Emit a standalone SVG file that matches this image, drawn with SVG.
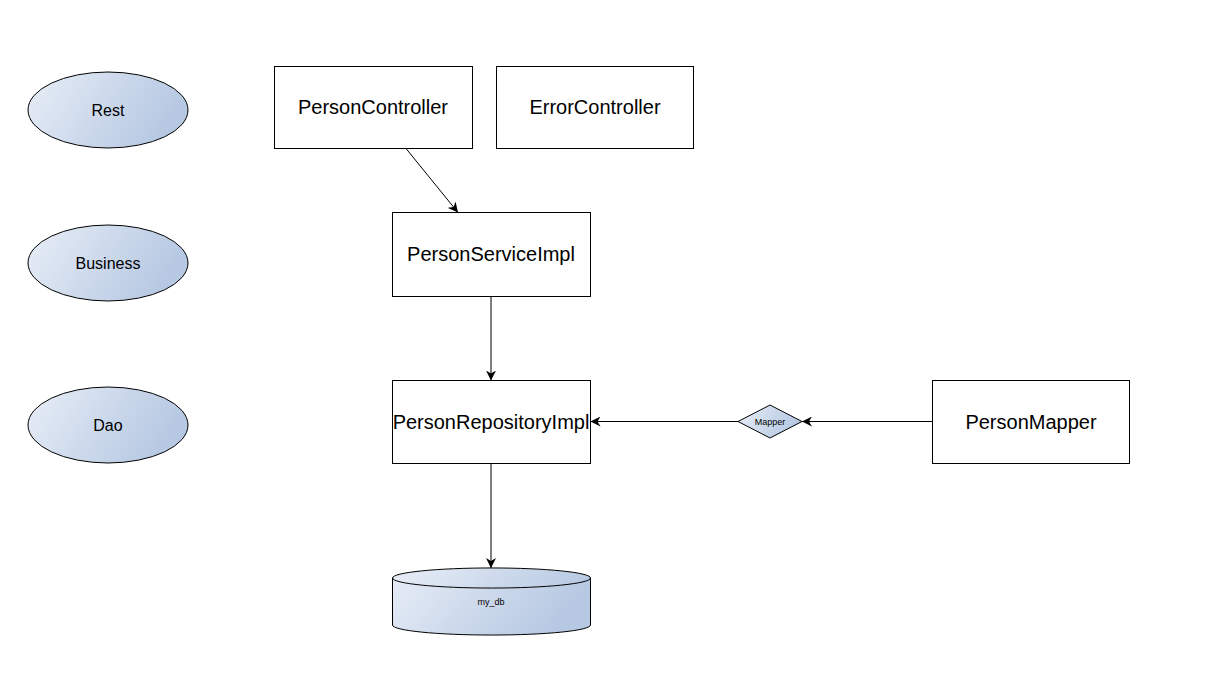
<svg xmlns="http://www.w3.org/2000/svg" width="1211" height="700" viewBox="0 0 1211 700">
<style>
.box{fill:#ffffff;stroke:#000000;stroke-width:1}
.shp{fill:url(#g);stroke:#000000;stroke-width:1}
.t{font-family:"Liberation Sans",Arial,sans-serif;fill:#000000;text-anchor:middle;dominant-baseline:central}
.big{font-size:20px}
.mid{font-size:16px}
.sm{font-size:9px}
.c{stroke:#000000;stroke-width:1;fill:none;marker-end:url(#a)}
</style>
<defs>
<linearGradient id="g" x1="0" y1="0" x2="1" y2="0.3">
<stop offset="0" stop-color="#e8eef7"/>
<stop offset="1" stop-color="#b6c8e2"/>
</linearGradient>
<marker id="a" viewBox="0 0 10 10" refX="10" refY="5" markerWidth="10" markerHeight="10" markerUnits="userSpaceOnUse" orient="auto">
<path d="M0,0 L10,5 L0,10 L3,5 Z" fill="#000000"/>
</marker>
</defs>
<rect width="1211" height="700" fill="#ffffff"/>
<g id="rest"><ellipse class="shp" cx="108" cy="110" rx="80" ry="38"/><text class="t mid" x="108" y="110">Rest</text></g>
<g id="business"><ellipse class="shp" cx="108" cy="263" rx="80" ry="38"/><text class="t mid" x="108" y="263">Business</text></g>
<g id="dao"><ellipse class="shp" cx="108" cy="425" rx="80" ry="38"/><text class="t mid" x="108" y="425">Dao</text></g>
<g id="personController"><rect class="box" x="274.5" y="66.5" width="198" height="82"/><text class="t big" x="373" y="107">PersonController</text></g>
<g id="errorController"><rect class="box" x="496.5" y="66.5" width="197" height="82"/><text class="t big" x="595" y="107">ErrorController</text></g>
<g id="personServiceImpl"><rect class="box" x="392.5" y="212.5" width="198" height="84"/><text class="t big" x="491" y="254">PersonServiceImpl</text></g>
<g id="personRepositoryImpl"><rect class="box" x="392.5" y="380.5" width="198" height="83"/><text class="t big" x="491" y="422">PersonRepositoryImpl</text></g>
<g id="personMapper"><rect class="box" x="932.5" y="380.5" width="197" height="83"/><text class="t big" x="1031" y="422">PersonMapper</text></g>
<g id="mapper"><polygon class="shp" points="770,405 802,421.5 770,438 738,421.5"/><text class="t sm" x="770" y="422">Mapper</text></g>
<g id="my_db">
<path class="shp" d="M392.5,578 A98.5,10 0 0 1 590.5,578 L590.5,625 A98.5,10 0 0 1 392.5,625 Z"/>
<path d="M392.5,578 A98.5,10 0 0 0 590.5,578" fill="none" stroke="#000000" stroke-width="1"/>
<text class="t sm" x="491" y="602">my_db</text>
</g>
<g id="connectors">
<line class="c" x1="406" y1="148.5" x2="458" y2="212.5"/>
<line class="c" x1="491" y1="296.5" x2="491" y2="380.5"/>
<line class="c" x1="932.5" y1="421.5" x2="802" y2="421.5"/>
<line class="c" x1="738" y1="421.5" x2="590.5" y2="421.5"/>
<line class="c" x1="491" y1="463.5" x2="491" y2="568"/>
</g>
</svg>
